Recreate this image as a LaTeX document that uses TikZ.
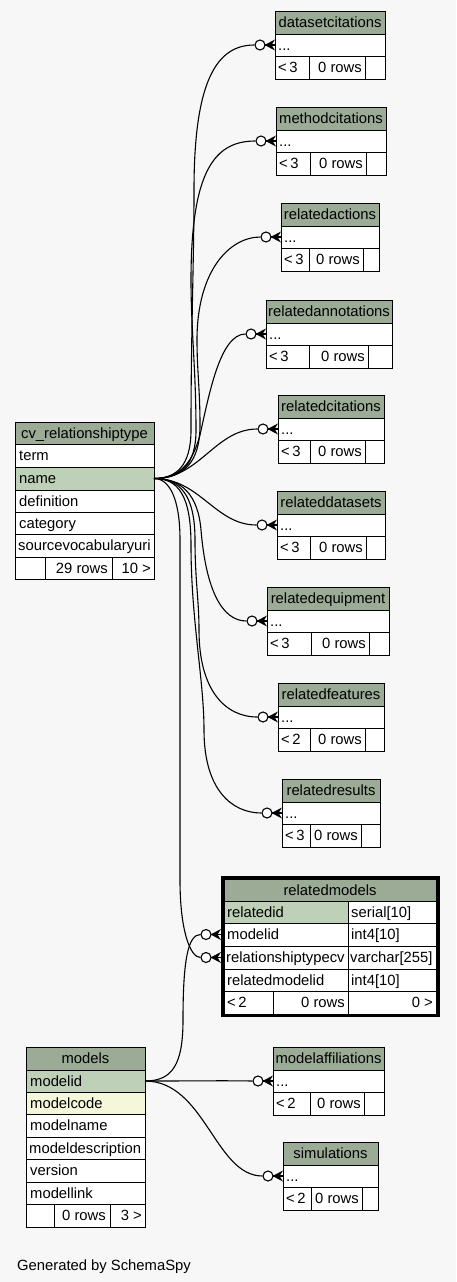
\documentclass[tikz,border=0pt]{standalone}
\usepackage{fontspec}
\setmainfont{Liberation Sans}
\definecolor{hdrc}{HTML}{9BAB96}
\definecolor{keyc}{HTML}{BED1B8}
\definecolor{idxc}{HTML}{F4F7DA}
\definecolor{bgc}{HTML}{F7F7F7}
\tikzset{
  cellbox/.style={draw=black, line width=1pt},
  txt/.style={anchor=base west, inner sep=0pt, font=\fontsize{14.8}{17}\selectfont},
  txtr/.style={txt, anchor=base east},
  txtc/.style={txt, anchor=base},
  conn/.style={draw=black, line width=1.1pt},
  ring/.style={circle, draw=black, fill=white, line width=1.1pt, minimum size=10pt, inner sep=0pt},
}
% crow's foot + ring at the left edge x=#2, row centre y=#3
\newcommand{\ringcrow}[3]{%
  \fill (#2-10.5,#3) -- (#2,#3-5.5) -- (#2-3.5,#3) -- (#2,#3+5.5) -- cycle;
  \draw[line width=1.1pt] (#2-10.5,#3) -- (#2,#3);
  \node[ring] (#1-ring) at (#2-15,#3) {};
}
% small table: id, x1, x2, ytop, d1, d2, title, n
\newcommand{\smtab}[8]{%
  \path[cellbox, fill=hdrc] (#2,#4) rectangle (#3,#4+23);
  \node[txtc] (#1-h) at ({(#2+#3)/2},#4+16.8) {#7};
  \path[cellbox, fill=white] (#2,#4+23) rectangle (#3,#4+45);
  \node[txt] (#1-r) at (#2+3,#4+39.3) {...};
  \path[cellbox, fill=white] (#2,#4+45) rectangle (#5,#4+68);
  \path[cellbox, fill=white] (#5,#4+45) rectangle (#6,#4+68);
  \path[cellbox, fill=white] (#6,#4+45) rectangle (#3,#4+68);
  \node[txt] (#1-lt) at (#2+3,#4+61.8) {<\,#8};
  \node[txtr] (#1-rows) at (#6-3,#4+61.8) {0 rows};
  \ringcrow{#1}{#2}{#4+34}
}
\begin{document}
\begin{tikzpicture}[x=1pt,y=-1pt]
\useasboundingbox (0,0) rectangle (456,1282);
\fill[bgc] (0,0) rectangle (456,1282);

% ---------- small tables ----------
\smtab{dc}{275}{385}{11}{309}{365}{datasetcitations}{3}
\smtab{mc}{276}{386}{107}{310}{366}{methodcitations}{3}
\smtab{ra}{281}{379}{203}{309}{363}{relatedactions}{3}
\smtab{ran}{266}{392}{300}{309}{368}{relatedannotations}{3}
\smtab{rc}{278}{384}{395}{310}{365}{relatedcitations}{3}
\smtab{rd}{277}{385}{491}{310}{366}{relateddatasets}{3}
\smtab{re}{267}{389}{587}{311}{369}{relatedequipment}{3}
\smtab{rf}{278}{384}{683}{310}{365}{relatedfeatures}{2}
\smtab{rr}{282}{380}{779}{310}{361}{relatedresults}{3}
\smtab{ma}{273}{384}{1047}{310}{364}{modelaffiliations}{2}
\smtab{sim}{283}{378}{1142}{311}{362}{simulations}{2}

% ---------- cv_relationshiptype ----------
\path[cellbox, fill=hdrc] (15,422) rectangle (154,444);
\node[txtc] (cv-h) at (84.5,438.3) {cv\_relationshiptype};
\path[cellbox, fill=white] (15,444) rectangle (154,467);
\node[txt] (cv-term) at (19,460.8) {term};
\path[cellbox, fill=keyc] (15,467) rectangle (154,490);
\node[txt] (cv-name) at (19,483.8) {name};
\path[cellbox, fill=white] (15,490) rectangle (154,512);
\node[txt] (cv-def) at (19,506.3) {definition};
\path[cellbox, fill=white] (15,512) rectangle (154,534);
\node[txt] (cv-cat) at (19,528.3) {category};
\path[cellbox, fill=white] (15,534) rectangle (154,557);
\node[txt] (cv-src) at (18,550.8) {sourcevocabularyuri};
\path[cellbox, fill=white] (15,557) rectangle (45,579);
\path[cellbox, fill=white] (45,557) rectangle (112,579);
\path[cellbox, fill=white] (112,557) rectangle (154,579);
\node[txtr] (cv-rows) at (108,573.3) {29 rows};
\node[txtr] (cv-ch) at (151,573.3) {10 >};
\coordinate (cvn) at (154,478.5);

% ---------- models ----------
\path[cellbox, fill=hdrc] (26,1047) rectangle (145,1070);
\node[txtc] (m-h) at (85.5,1063.8) {models};
\path[cellbox, fill=keyc] (26,1070) rectangle (145,1092);
\node[txt] (m-id) at (30,1086.3) {modelid};
\path[cellbox, fill=idxc] (26,1092) rectangle (145,1114);
\node[txt] (m-code) at (30,1108.3) {modelcode};
\path[cellbox, fill=white] (26,1114) rectangle (145,1137);
\node[txt] (m-name) at (30,1130.8) {modelname};
\path[cellbox, fill=white] (26,1137) rectangle (145,1159);
\node[txt] (m-desc) at (29,1153.3) {modeldescription};
\path[cellbox, fill=white] (26,1159) rectangle (145,1182);
\node[txt] (m-ver) at (30,1175.8) {version};
\path[cellbox, fill=white] (26,1182) rectangle (145,1204);
\node[txt] (m-link) at (30,1198.3) {modellink};
\path[cellbox, fill=white] (26,1204) rectangle (54,1227);
\path[cellbox, fill=white] (54,1204) rectangle (110,1227);
\path[cellbox, fill=white] (110,1204) rectangle (145,1227);
\node[txtr] (m-rows) at (106,1220.8) {0 rows};
\node[txtr] (m-ch) at (142,1220.8) {3 >};
\coordinate (mdl) at (145,1081);

% ---------- relatedmodels (focus) ----------
\path[cellbox, fill=hdrc] (224,879) rectangle (436.5,901);
\node[txtc] (rm-h) at (330,895.3) {relatedmodels};
\path[cellbox, fill=keyc] (224,901) rectangle (348,923);
\path[cellbox, fill=white] (348,901) rectangle (436.5,923);
\node[txt] (rm-id) at (227,917.3) {relatedid};
\node[txt] (rm-idt) at (351,917.3) {serial[10]};
\path[cellbox, fill=white] (224,923) rectangle (348,946);
\path[cellbox, fill=white] (348,923) rectangle (436.5,946);
\node[txt] (rm-mi) at (227,939.8) {modelid};
\node[txt] (rm-mit) at (351,939.8) {int4[10]};
\path[cellbox, fill=white] (224,946) rectangle (348,969);
\path[cellbox, fill=white] (348,946) rectangle (436.5,969);
\node[txt] (rm-rt) at (226,962.8) {relationshiptypecv};
\node[txt] (rm-rtt) at (350,962.8) {varchar[255]};
\path[cellbox, fill=white] (224,969) rectangle (348,991);
\path[cellbox, fill=white] (348,969) rectangle (436.5,991);
\node[txt] (rm-rmi) at (227,985.3) {relatedmodelid};
\node[txt] (rm-rmit) at (351,985.3) {int4[10]};
\path[cellbox, fill=white] (224,991) rectangle (273,1014);
\path[cellbox, fill=white] (273,991) rectangle (348,1014);
\path[cellbox, fill=white] (348,991) rectangle (436.5,1014);
\node[txt] (rm-lt) at (227,1007.8) {<\,2};
\node[txtr] (rm-rows) at (345,1007.8) {0 rows};
\node[txtr] (rm-ch) at (433,1007.8) {0 >};
\draw[line width=3pt] (222.5,877.5) rectangle (438,1015.5);
\ringcrow{rmmi}{221}{934.5}
\ringcrow{rmrt}{221}{957.5}

% ---------- connectors ----------
\draw[conn] (cvn) .. controls (176,478.5) and (191,466) .. (191,430)
  .. controls (191,330) and (194,260) .. (194,190)
  .. controls (194,80) and (217,45) .. (dc-ring.west);
\draw[conn] (cvn) .. controls (180,478.5) and (196,466) .. (196,430)
  .. controls (196,370) and (191,330) .. (191,280)
  .. controls (191,170) and (215,141) .. (mc-ring.west);
\draw[conn] (cvn) .. controls (184,478.5) and (200,462) .. (200,425)
  .. controls (200,390) and (197,370) .. (197,340)
  .. controls (197,270) and (230,237) .. (ra-ring.west);
\draw[conn] (cvn) .. controls (182,478.5) and (193,460) .. (200,435)
  .. controls (209,395) and (220,334) .. (ran-ring.west);
\draw[conn] (cvn) .. controls (200,478.5) and (215,429) .. (rc-ring.west);
\draw[conn] (cvn) .. controls (200,478.5) and (215,525) .. (rd-ring.west);
\draw[conn] (cvn) .. controls (182,478.5) and (198,495) .. (201,530)
  .. controls (206,590) and (222,621) .. (re-ring.west);
\draw[conn] (cvn) .. controls (180,478.5) and (195,495) .. (195,540)
  .. controls (195,580) and (199,600) .. (199,630)
  .. controls (199,690) and (225,717) .. (rf-ring.west);
\draw[conn] (cvn) .. controls (178,478.5) and (191,495) .. (191,545)
  .. controls (191,620) and (204,680) .. (204,730)
  .. controls (204,790) and (232,813) .. (rr-ring.west);
\draw[conn] (cvn) .. controls (170,478.5) and (180,500) .. (180,540) -- (180,880)
  .. controls (180,930) and (190,957.5) .. (rmrt-ring.west);
\draw[conn] (mdl) .. controls (200,1081) and (220,1080.5) .. (ma-ring.west);
\draw[conn] (mdl) .. controls (205,1081) and (215,1176) .. (sim-ring.west);
\draw[conn] (mdl) .. controls (172,1081) and (183,1065) .. (183,1020)
  .. controls (183,960) and (188,934.5) .. (rmmi-ring.west);

% ---------- footer ----------
\node[txt] (gen) at (17,1270) {Generated by SchemaSpy};
\end{tikzpicture}
\end{document}
